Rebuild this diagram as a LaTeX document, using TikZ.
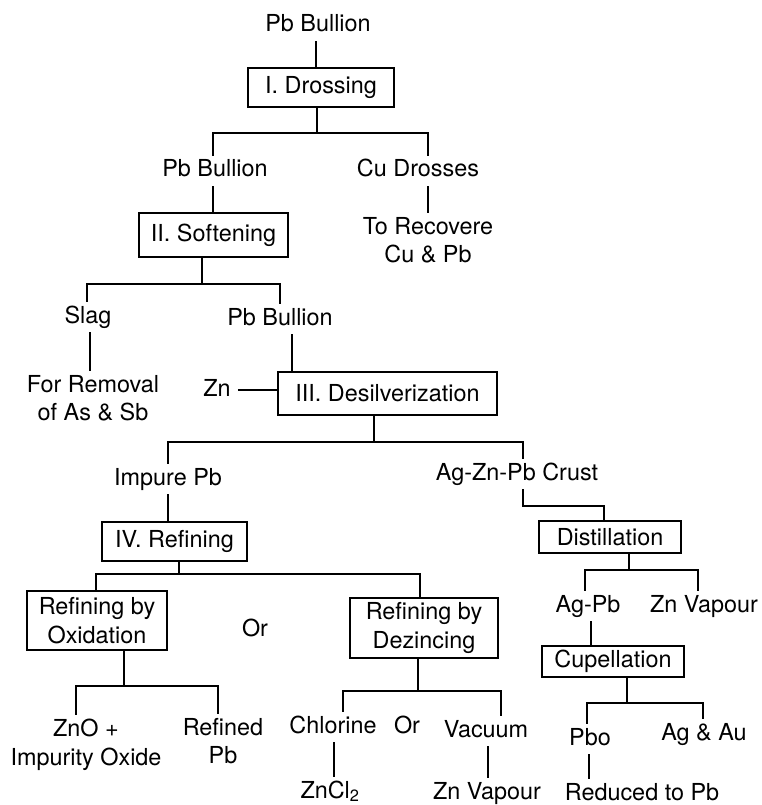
\documentclass[tikz,border=0pt]{standalone}
\usepackage{fontspec}
\setmainfont{TeX Gyre Heros}
\begin{document}
\begin{tikzpicture}[x=1pt,y=-1pt,
  font=\fontsize{23.4}{28.5}\selectfont,
  line width=2.6pt,
  lbl/.style={inner sep=3pt, text height=17pt, text depth=5pt, anchor=base},
  lblb/.style={lbl, text depth=2pt},
  mlbl/.style={inner sep=3pt, align=center},
  box/.style={draw, line width=2.6pt, inner sep=0pt, align=center}]
\useasboundingbox (0,0) rectangle (762,805);
% nodes
\node[lbl] (pbtop) at (318,32) {Pb Bullion};
\node[box, minimum width=146pt, minimum height=39pt] (dross) at (321,87.5) {I. Drossing};
\node[lbl] (pb2) at (215,177) {Pb Bullion};
\node[lbl] (cu) at (418,177) {Cu Drosses};
\node[mlbl] (recov) at (428,240) {To Recovere\\Cu \& Pb};
\node[box, minimum width=149pt, minimum height=44pt] (soft) at (213.5,235) {II. Softening};
\node[lbl] (slag) at (88,323) {Slag};
\node[lbl] (pb3) at (280,325) {Pb Bullion};
\node[mlbl] (remov) at (93,398) {For Removal\\of As \& Sb};
\node[lbl] (zn) at (217,396) {Zn};
\node[box, minimum width=219pt, minimum height=43pt] (desil) at (387.5,393.5) {III. Desilverization};
\node[lbl] (impure) at (168,485) {Impure Pb};
\node[lbl] (crust) at (517,480) {Ag-Zn-Pb Crust};
\node[box, minimum width=145pt, minimum height=39pt] (refine) at (174.5,541.5) {IV. Refining};
\node[box, minimum width=142pt, minimum height=32pt] (distil) at (610,537) {Distillation};
\node[box, minimum width=140pt, minimum height=59pt] (oxid) at (97,620.5) {Refining by\\Oxidation};
\node[lbl] (or1) at (255,636) {Or};
\node[box, minimum width=148pt, minimum height=60pt] (dezinc) at (424,628) {Refining by\\Dezincing};
\node[lbl] (agpb) at (588,612) {Ag-Pb};
\node[lbl] (znv1) at (704,612) {Zn Vapour};
\node[box, minimum width=142pt, minimum height=31pt] (cupel) at (613,661.5) {Cupellation};
\node[mlbl] (zno) at (86,745) {ZnO +\\Impurity Oxide};
\node[mlbl] (refpb) at (223,741) {Refined\\Pb};
\node[lbl] (chlor) at (333,733) {Chlorine};
\node[lbl] (or2) at (407,733) {Or};
\node[lbl] (vac) at (486,737) {Vacuum};
\node[lbl] (pbo) at (590,745) {Pbo};
\node[lbl] (agau) at (704,740) {Ag \& Au};
\node[lblb] (zncl) at (330,798) {ZnCl\textsubscript{2}};
\node[lblb] (znv2) at (487,799) {Zn Vapour};
\node[lblb] (reduc) at (642,800) {Reduced to Pb};
% junctions
\coordinate (j1) at (317,133);
\coordinate (j2) at (202,284);
\coordinate (j3) at (374,442);
\coordinate (j4) at (523,506);
\coordinate (j5) at (179,574);
\coordinate (j6) at (124,686);
\coordinate (j7) at (418,691);
\coordinate (j8) at (629,570);
\coordinate (j9) at (627,703);
% connectors
\draw ([xshift=-2pt]pbtop.south) -- ([xshift=-2pt]pbtop.south |- dross.north);
\draw (dross.south -| j1) -- (j1);
\draw (j1) -| ([xshift=-2pt]pb2.north);
\draw (j1) -| ([xshift=10pt]cu.north);
\draw ([xshift=10pt]cu.south) -- ([xshift=10pt]cu.south |- recov.north);
\draw ([xshift=-2pt]pb2.south) -- ([xshift=-2pt]pb2.south |- soft.north);
\draw (soft.south -| j2) -- (j2);
\draw (j2) -| ([xshift=-1pt]slag.north);
\draw (j2) -| (pb3.north);
\draw ([xshift=2pt]slag.south) -- ([xshift=2pt]slag.south |- remov.north);
\draw ([xshift=12pt]pb3.south) -- ([xshift=12pt]pb3.south |- desil.north);
\draw ([xshift=3pt]zn.east) -- (desil.west |- zn.east);
\draw (desil.south -| j3) -- (j3);
\draw (j3) -| (impure.north);
\draw (j3) -| ([xshift=6pt]crust.north);
\draw (impure.south) -- (impure.south |- refine.north);
\draw (crust.south -| j4) -- (j4) -| ([xshift=-6pt]distil.north);
\draw (refine.south -| j5) -- (j5);
\draw (j5) -| ([xshift=-1pt]oxid.north);
\draw (j5) -| ([xshift=-4pt]dezinc.north);
\draw (oxid.south -| j6) -- (j6);
\draw (j6) -| ([xshift=-10pt]zno.north);
\draw (j6) -| ([xshift=-5pt]refpb.north);
\draw (dezinc.south -| j7) -- (j7);
\draw (j7) -| ([xshift=10pt]chlor.north);
\draw (j7) -| ([xshift=15pt]vac.north);
\draw ([xshift=1pt]chlor.south) -- ([xshift=1pt]chlor.south |- zncl.north);
\draw ([xshift=2pt]vac.south) -- ([xshift=2pt]vac.south |- znv2.north);
\draw (distil.south -| j8) -- (j8);
\draw (j8) -| ([xshift=-3pt]agpb.north);
\draw (j8) -| ([xshift=-6pt]znv1.north);
\draw ([xshift=3pt]agpb.south) -- ([xshift=3pt]agpb.south |- cupel.north);
\draw (cupel.south -| j9) -- (j9);
\draw (j9) -| ([xshift=-3pt]pbo.north);
\draw (j9) -| ([xshift=-1pt]agau.north);
\draw ([xshift=-1pt]pbo.south) -- ([xshift=-1pt]pbo.south |- reduc.north);
\end{tikzpicture}
\end{document}
